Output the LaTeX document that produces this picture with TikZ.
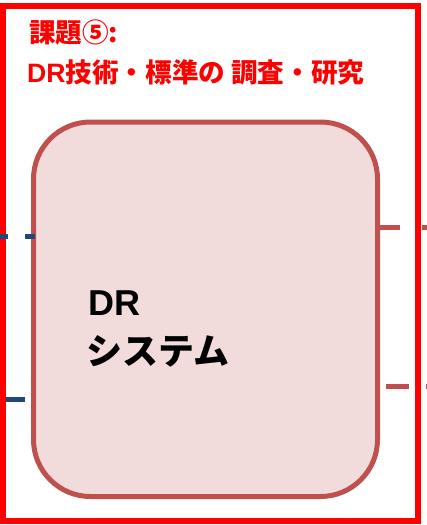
\documentclass[tikz,border=0pt]{standalone}
\usepackage{fontspec}
\newfontfamily\jp{Noto Sans CJK JP}
\newfontfamily\lsans{Liberation Sans}
\definecolor{frame}{RGB}{255,0,0}
\definecolor{boxline}{RGB}{192,80,77}
\definecolor{boxfill}{RGB}{242,220,219}
\definecolor{blueline}{RGB}{31,73,125}
\begin{document}
\begin{tikzpicture}[x=1pt,y=-1pt,
  framebox/.style={draw=frame,line width=6pt},
  sysbox/.style={draw=boxline,fill=boxfill,line width=5pt,rounded corners=57pt},
  blue link/.style={draw=blueline,line width=5pt},
  red link/.style={draw=boxline,line width=5pt},
  title/.style={text=frame,font=\jp\bfseries\fontsize{26.6}{30}\selectfont,inner sep=0pt,anchor=base west},
  label/.style={text=black,inner sep=0pt,anchor=base west}]
\useasboundingbox (0,0) rectangle (427,525);
\fill[white] (0,0) rectangle (427,525);
% outer frame
\draw[framebox] (3,6) rectangle (418,521);
% system box
\draw[sysbox] (33.5,122) rectangle (377.5,496.5);
\coordinate (sysW1) at (35,236);
\coordinate (sysW2) at (25,399);
\coordinate (sysE1) at (379,227);
\coordinate (sysE2) at (386,386);
% left connectors
\coordinate (l1a) at (0,236);
\coordinate (l1b) at (8,236);
\coordinate (l1c) at (25,236);
\coordinate (l2a) at (6,399);
\draw[blue link] (l1a) -- (l1b);
\draw[blue link] (l1c) -- (sysW1);
\draw[blue link] (l2a) -- (sysW2);
% right connectors
\coordinate (r1b) at (400,227);
\coordinate (r1c) at (422,227);
\coordinate (r1d) at (427,227);
\coordinate (r2b) at (409,386);
\coordinate (r2c) at (426,386);
\coordinate (r2d) at (427,386);
\draw[red link] (sysE1) -- (r1b);
\draw[red link] (r1c) -- (r1d);
\draw[red link] (sysE2) -- (r2b);
\draw[red link] (r2c) -- (r2d);
% title
\node[title] (t1) at (29,42) {課題⑤:};
\node[title] (t2) at (27,82) {{\lsans\bfseries DR}技術・標準の 調査・研究};
% box label
\node[label,font=\lsans\bfseries\fontsize{36}{40}\selectfont] (dr) at (88,315) {DR};
\node[label,font=\jp\bfseries\fontsize{36}{40}\selectfont] (sys) at (86,364) {システム};
\end{tikzpicture}
\end{document}
